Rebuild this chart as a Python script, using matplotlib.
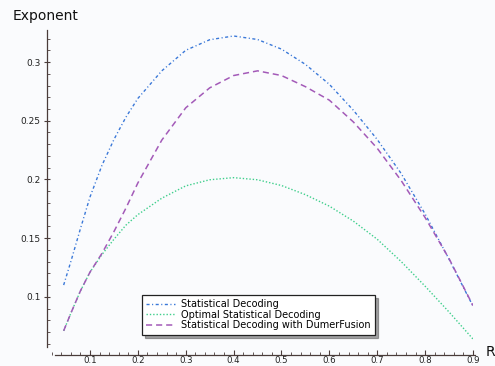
import matplotlib
matplotlib.use("Agg")
import matplotlib.pyplot as plt
from matplotlib.ticker import MultipleLocator

# Rate grid and exponent curves
rate = [0.045, 0.06, 0.08, 0.1, 0.125, 0.15, 0.175, 0.2, 0.25, 0.3, 0.35,
        0.4, 0.45, 0.5, 0.55, 0.6, 0.65, 0.7, 0.75, 0.8, 0.85, 0.9]
statistical = [0.110, 0.130, 0.158, 0.185, 0.212, 0.234, 0.253, 0.269, 0.2925,
               0.310, 0.319, 0.3222, 0.3192, 0.311, 0.298, 0.281, 0.259, 0.234,
               0.205, 0.1705, 0.132, 0.092]
optimal = [0.071, 0.086, 0.105, 0.121, 0.136, 0.149, 0.161, 0.170, 0.184,
           0.1945, 0.1997, 0.2015, 0.1997, 0.1948, 0.187, 0.1772, 0.1645,
           0.149, 0.130, 0.109, 0.087, 0.064]
dumer = [0.071, 0.086, 0.105, 0.121, 0.137, 0.1555, 0.1755, 0.197, 0.2335,
         0.261, 0.278, 0.2885, 0.2925, 0.2885, 0.279, 0.2675, 0.249, 0.2265,
         0.199, 0.1675, 0.1325, 0.0925]
labels = ["Statistical Decoding", "Optimal Statistical Decoding",
          "Statistical Decoding with DumerFusion"]

W, H = 495, 366
bg = "#fafbfd"
fig = plt.figure(figsize=(W / 100, H / 100), dpi=100, facecolor=bg)

# axes box in pixels: left 47, right 473, top 30, bottom 355
ax = fig.add_axes([47 / W, 1 - 355 / H, (473 - 47) / W, (355 - 30) / H])
ax.set_facecolor(bg)

x0, x1 = 0.0102, 0.9
y0, y1 = 0.0504, 0.3273
ax.set_xlim(x0, x1)
ax.set_ylim(y0, y1)

ax.plot(rate, statistical, color="#3a78d8", lw=1.0,
        linestyle=(0, (2.2, 1.8, 0.8, 1.8)), label=labels[0])
ax.plot(rate, optimal, color="#3fcf8c", lw=1.0,
        linestyle=(0, (1.0, 1.4)), label=labels[1])
ax.plot(rate, dumer, color="#a35ab8", lw=1.1,
        linestyle=(0, (4.0, 2.6)), label=labels[2])

spine_col = "#4a3c3a"
for s in ("top", "right"):
    ax.spines[s].set_visible(False)
ax.spines["left"].set_color(spine_col)
ax.spines["bottom"].set_color(spine_col)
ax.spines["left"].set_linewidth(0.9)
ax.spines["bottom"].set_linewidth(0.9)
ax.spines["left"].set_bounds(y0 + 8 / 1174, y1)
ax.spines["bottom"].set_bounds(x0 + 8 / 479, 0.904)

ax.xaxis.set_minor_locator(MultipleLocator(0.02))
ax.yaxis.set_minor_locator(MultipleLocator(0.01))
ax.set_xticks([0.1, 0.2, 0.3, 0.4, 0.5, 0.6, 0.7, 0.8, 0.9])
ax.set_xticklabels(["0.1", "0.2", "0.3", "0.4", "0.5", "0.6", "0.7", "0.8", "0.9"])
ax.set_yticks([0.1, 0.15, 0.2, 0.25, 0.3])
ax.set_yticklabels(["0.1", "0.15", "0.2", "0.25", "0.3"])

ax.tick_params(which="major", direction="inout", length=5, width=0.8,
               color=spine_col, labelsize=6.5, labelcolor="#222222", pad=2)
ax.tick_params(which="minor", direction="in", length=2.5, width=0.6,
               color=spine_col)
ax.tick_params(axis="x", which="major", direction="in", length=3.5, pad=0.5,
               labelsize=6.2)

fig.text(13 / W, 1 - 16 / H, "Exponent", fontsize=10, va="center",
         ha="left", color="#111111")
fig.text(486 / W, 1 - 352 / H, "R", fontsize=10, va="center", ha="left",
         color="#111111")

leg = ax.legend(loc="upper left",
                bbox_to_anchor=((142 - 47) / (473 - 47), (355 - 295) / (355 - 30)),
                fontsize=7, frameon=True, fancybox=False, shadow=True,
                handlelength=2.9, labelspacing=0.05, borderpad=0.45,
                handletextpad=0.7, borderaxespad=0)
leg.get_frame().set_edgecolor("#222222")
leg.get_frame().set_linewidth(0.9)
leg.get_frame().set_facecolor("white")

fig.savefig("out.png", dpi=100, facecolor=bg)
